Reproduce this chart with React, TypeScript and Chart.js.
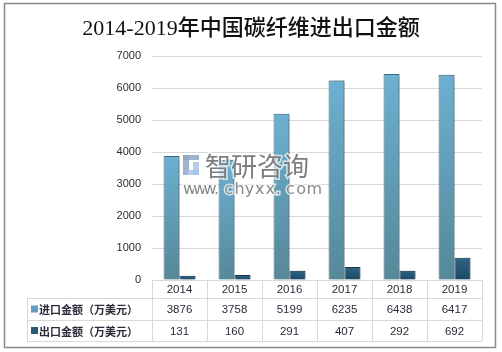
import React, { useEffect, useRef } from "react";
import { Chart, registerables } from "chart.js";

Chart.register(...registerables);

const TITLE = "2014-2019年中国碳纤维进出口金额";
const categories = ["2014", "2015", "2016", "2017", "2018", "2019"];
const importLabel = "进口金额（万美元）";
const exportLabel = "出口金额（万美元）";
const importValues = [3876, 3758, 5199, 6235, 6438, 6417];
const exportValues = [131, 160, 291, 407, 292, 692];
const yTicks = [0, 1000, 2000, 3000, 4000, 5000, 6000, 7000];

const IMPORT_TOP = "#6cb0d2";
const IMPORT_BOTTOM = "#568898";
const EXPORT_TOP = "#2f6584";
const EXPORT_BOTTOM = "#1b4863";

function barGradient(top: string, bottom: string) {
  return (ctx: any) => {
    const chart = ctx.chart;
    const area = chart.chartArea;
    if (!area || ctx.parsed == null) return top;
    const ys = chart.scales.y;
    const yTop = ys.getPixelForValue(ctx.parsed.y);
    const yBot = ys.getPixelForValue(0);
    if (!isFinite(yTop) || yBot - yTop < 1) return top;
    const g = chart.ctx.createLinearGradient(0, yTop, 0, yBot);
    g.addColorStop(0, top);
    g.addColorStop(1, bottom);
    return g;
  };
}

const shadowPlugin = {
  id: "barShadow",
  beforeDatasetDraw(chart: any) {
    const c = chart.ctx;
    c.save();
    c.shadowColor = "rgba(0,0,0,0.35)";
    c.shadowBlur = 3;
    c.shadowOffsetX = 2;
    c.shadowOffsetY = 0;
  },
  afterDatasetDraw(chart: any) {
    chart.ctx.restore();
  },
};

const tablePlugin = {
  id: "dataTable",
  afterDraw(chart: any) {
    const c = chart.ctx;
    const xs = chart.scales.x;
    const area = chart.chartArea;
    const n = categories.length;
    const half = (area.right - area.left) / n / 2;
    const rowTop = area.bottom;
    const r1 = rowTop + 18;
    const r2 = r1 + 22;
    const r3 = r2 + 21;
    const legendLeft = 27;

    c.save();
    c.strokeStyle = "#d9d9d9";
    c.lineWidth = 1;
    c.beginPath();
    c.moveTo(area.left, rowTop + 0.5);
    c.lineTo(area.right, rowTop + 0.5);
    [r1, r2, r3].forEach((y) => {
      c.moveTo(legendLeft, y + 0.5);
      c.lineTo(area.right, y + 0.5);
    });
    c.moveTo(legendLeft + 0.5, r1);
    c.lineTo(legendLeft + 0.5, r3);
    for (let i = 0; i <= n; i++) {
      const x = Math.round(area.left + i * half * 2) + 0.5;
      c.moveTo(x, rowTop);
      c.lineTo(x, r3);
    }
    c.stroke();

    c.fillStyle = "#2b2b3a";
    c.textAlign = "center";
    c.textBaseline = "middle";
    c.font = "11.5px 'Liberation Sans', Arial, sans-serif";
    categories.forEach((cat, i) => {
      const cx = xs.getPixelForValue(i);
      c.fillText(cat, cx, (rowTop + r1) / 2 + 1);
      c.fillText(String(importValues[i]), cx, (r1 + r2) / 2 + 1);
      c.fillText(String(exportValues[i]), cx, (r2 + r3) / 2 + 1);
    });

    const rows = [
      { label: importLabel, color: "#5f9fbd", y: (r1 + r2) / 2 },
      { label: exportLabel, color: "#275874", y: (r2 + r3) / 2 },
    ];
    rows.forEach((r) => {
      c.fillStyle = r.color;
      c.fillRect(31, r.y - 3.5, 7, 7);
      c.fillStyle = "#2b2b3a";
      c.textAlign = "left";
      c.font = "bold 11px 'Noto Sans CJK SC', sans-serif";
      c.fillText(r.label, 39, r.y + 1);
    });

    // title
    c.fillStyle = "#111";
    c.textAlign = "center";
    c.textBaseline = "middle";
    c.font = "500 22px 'Liberation Serif', 'Noto Sans CJK SC', serif";
    c.fillText(TITLE, chart.width / 2, 29);

    // watermark
    const wx = 183;
    const wy = 155;
    c.globalAlpha = 0.85;
    c.fillStyle = "#8fa6c6";
    c.fillRect(wx, wy, 6, 20);
    c.fillRect(wx, wy, 16, 5);
    c.fillStyle = "#a9c6e6";
    c.fillRect(wx + 10, wy + 7, 6, 13);
    c.fillRect(wx + 4, wy + 15, 12, 5);
    c.globalAlpha = 1;
    c.textAlign = "left";
    c.font = "26px 'Noto Sans CJK SC', sans-serif";
    c.lineWidth = 3;
    c.strokeStyle = "rgba(255,255,255,0.7)";
    c.strokeText("智研咨询", 205, 166);
    c.fillStyle = "#7d7d7d";
    c.fillText("智研咨询", 205, 166);
    c.font = "16px 'DejaVu Sans', sans-serif";
    const site = "www.chyxx.com";
    let sx = 183;
    for (const ch of site) {
      c.strokeText(ch, sx, 190);
      c.fillStyle = "#8a8a8a";
      c.fillText(ch, sx, 190);
      sx += 10.3;
    }

    // outer border
    c.strokeStyle = "#8a8a8a";
    c.lineWidth = 1.5;
    c.strokeRect(4.5, 3.5, 491, 344);
    c.restore();
  },
};

export default function App() {
  const ref = useRef<HTMLCanvasElement | null>(null);
  useEffect(() => {
    document.body.style.margin = "0";
    document.body.style.overflow = "hidden";
    if (!ref.current) return;
    const chart = new Chart(ref.current, {
      type: "bar",
      data: {
        labels: categories,
        datasets: [
          {
            label: importLabel,
            data: importValues,
            backgroundColor: barGradient(IMPORT_TOP, IMPORT_BOTTOM),
            borderColor: "#3f7088",
            borderWidth: 1,
            categoryPercentage: 0.58,
            barPercentage: 1,
          },
          {
            label: exportLabel,
            data: exportValues,
            backgroundColor: barGradient(EXPORT_TOP, EXPORT_BOTTOM),
            borderColor: "#173f57",
            borderWidth: 1,
            categoryPercentage: 0.58,
            barPercentage: 1,
          },
        ],
      },
      options: {
        responsive: false,
        animation: false,
        devicePixelRatio: 1,
        layout: { padding: { left: 0, right: 20, top: 56, bottom: 72 } },
        plugins: {
          legend: { display: false },
          title: { display: false },
          tooltip: { enabled: false },
        },
        scales: {
          x: { display: false },
          y: {
            min: 0,
            max: 7000,
            afterFit: (s: any) => {
              s.width = 152;
            },
            afterBuildTicks: (s: any) => {
              s.ticks = yTicks.map((v) => ({ value: v }));
            },
            border: { display: false },
            grid: { color: "#d9d9d9", drawTicks: false },
            ticks: {
              padding: 11,
              color: "#2b2b3a",
              callback: (v: any) => String(v),
              font: { family: "'Liberation Sans', Arial, sans-serif", size: 11 },
            },
          },
        },
      },
      plugins: [shadowPlugin, tablePlugin],
    });
    return () => chart.destroy();
  }, []);
  return <canvas ref={ref} width={502} height={352} style={{ display: "block" }} />;
}
